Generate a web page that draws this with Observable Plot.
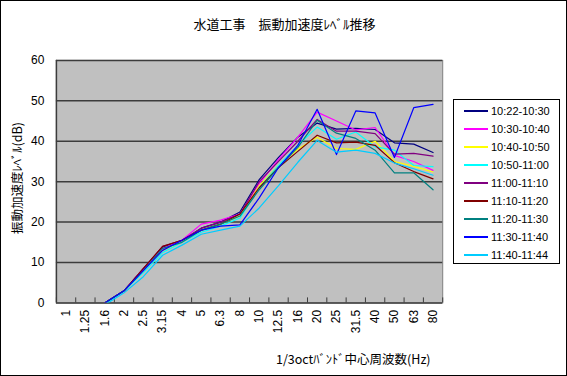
<!DOCTYPE html>
<html>
<head>
<meta charset="utf-8">
<script src="https://cdn.jsdelivr.net/npm/d3@7"></script>
<script src="https://cdn.jsdelivr.net/npm/@observablehq/plot@0.6"></script>
<style>
  html, body { margin: 0; padding: 0; background: #fff; }
  #wrap { position: relative; width: 567px; height: 376px; box-sizing: border-box; border: 1px solid #000; overflow: hidden; font-family: "Noto Sans CJK JP", sans-serif; }
  #chart { position: absolute; left: -1px; top: -1px; }
  .title { position: absolute; left: 0; width: 567px; top: 13px; text-align: center; font-size: 13px; color: #000; }
  .ylab { position: absolute; left: 15px; top: 177px; font-size: 12.5px; transform: translate(-50%, -50%) rotate(-90deg); white-space: nowrap; }
  .xlab { position: absolute; left: 275px; top: 348px; font-size: 12.5px; white-space: nowrap; }
  #legend { position: absolute; left: 452px; top: 98px; width: 107px; height: 165px; border: 1px solid #000; box-sizing: border-box; background: #fff; font-family: "Liberation Sans", Arial, sans-serif; font-size: 11px; }
  .row { position: absolute; left: 0; height: 14px; display: flex; align-items: center; }
  .sw { width: 24px; height: 0; border-top: 2px solid; margin-left: 10px; margin-right: 3px; }
</style>
</head>
<body>
<div id="wrap">
  <div id="chart"></div>
  <div class="title">水道工事　振動加速度ﾚﾍﾞﾙ推移</div>
  <div class="ylab">振動加速度ﾚﾍﾞﾙ(dB)</div>
  <div class="xlab">1/3octﾊﾞﾝﾄﾞ中心周波数(Hz)</div>
  <div id="legend"></div>
</div>
<script>
const categories = ["1","1.25","1.6","2","2.5","3.15","4","5","6.3","8","10","12.5","16","20","25","31.5","40","50","63","80"];
const seriesNames = ["10:22-10:30","10:30-10:40","10:40-10:50","10:50-11:00","11:00-11:10","11:10-11:20","11:20-11:30","11:30-11:40","11:40-11:44"];
const seriesColors = ["#000080","#ff00ff","#ffff00","#00ffff","#800080","#800000","#008080","#0000ff","#00ccff"];
const s1 = [null,null,0,3,8.5,13.8,15.4,18.5,20,22.5,30.5,36,41,44.5,43,43.2,42.9,39.6,39.3,37.2];
const s2 = [null,null,0,3,8.5,13.5,15.5,19.5,20.5,22,29.5,35.5,41,47.2,45,42.8,43.4,36.5,35,32.8];
const s3 = [null,null,0,3,8,13,15,18,19.5,21.5,29,34,38,41,38.2,38,40,35,33.8,32.4];
const s4 = [null,null,-0.3,3,7.5,12.5,15,17.5,19,21,28.5,34,39,43.5,40.5,42.3,38.6,37.8,34,33.7];
const s5 = [null,null,0,3,8.5,14,15.5,18.5,20,22,30,35,40,45.4,42.5,42.5,41.9,36.8,37,36.3];
const s6 = [null,null,0,3,8.5,14,15.5,18,19.5,22,28.5,33.5,37.5,41.5,39.6,39.8,39,34.7,32.5,30.7];
const s7 = [null,null,0,3,8,13.5,15,18,19.5,21.5,28,33.5,38.5,45.2,42,40.7,37.8,32.2,32.2,28];
const s8 = [null,null,0,3,8,13,15.5,18,19,19.3,26,33.5,39,47.9,36.7,47.5,47,36,48.3,49.1];
const s9 = [null,null,-0.5,2.5,6.5,11.8,14.3,17,18,19,23.5,29,34.8,40.2,37.3,37.8,37,34.6,33.2,31.6];
const yTicks = [0,10,20,30,40,50,60];

const seriesValues = [s1,s2,s3,s4,s5,s6,s7,s8,s9];
const rows = [];
seriesValues.forEach((vals, k) => vals.forEach((v, i) => { if (v !== null) rows.push({i, v, s: seriesNames[k]}); }));
const idx = categories.map((_, i) => i);
const bounds = d3.range(-0.5, categories.length, 1);

const chart = Plot.plot({
  width: 567, height: 376,
  marginLeft: 56, marginRight: 124, marginTop: 60, marginBottom: 73,
  style: {fontFamily: "Liberation Sans, Arial, sans-serif", fontSize: "12px", background: "transparent", overflow: "visible"},
  x: {type: "linear", domain: [-0.5, categories.length - 0.5], ticks: idx, tickFormat: i => categories[i], tickRotate: -90, tickSize: 0, tickPadding: 7, label: null},
  y: {domain: [0, 60], ticks: yTicks, tickSize: 0, tickPadding: 12, label: null},
  color: {domain: seriesNames, range: seriesColors},
  marks: [
    Plot.frame({fill: "#c0c0c0", stroke: "#808080"}),
    Plot.ruleY(yTicks, {stroke: "#3c3c3c", strokeWidth: 1.5}),
    Plot.ruleX([-0.5], {stroke: "#3c3c3c", strokeWidth: 1.5}),
    Plot.ruleX(bounds, {y1: 0, y2: 1.25, stroke: "#3c3c3c"}),
    Plot.line(rows, {x: "i", y: "v", z: "s", stroke: "s", strokeWidth: 1.2, clip: true})
  ]
});
document.getElementById("chart").appendChild(chart);

const legend = document.getElementById("legend");
seriesNames.forEach((n, k) => {
  const r = document.createElement("div");
  r.className = "row";
  r.style.top = (4 + k * 18) + "px";
  const sw = document.createElement("span");
  sw.className = "sw";
  sw.style.borderColor = seriesColors[k];
  const t = document.createElement("span");
  t.textContent = n;
  r.appendChild(sw); r.appendChild(t);
  legend.appendChild(r);
});
</script>
</body>
</html>
